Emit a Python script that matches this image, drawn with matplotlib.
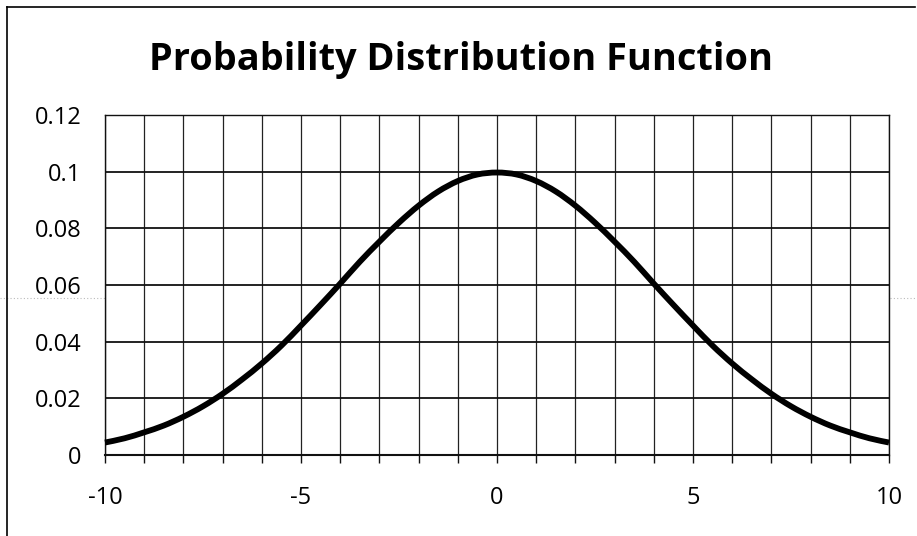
import matplotlib.pyplot as plt
import numpy as np
from matplotlib.lines import Line2D
from matplotlib.path import Path
from matplotlib.patches import PathPatch

# values (half-unit steps)
x_vals = [-10, -9.5, -9, -8.5, -8, -7.5, -7, -6.5, -6, -5.5, -5, -4.5, -4, -3.5,
          -3, -2.5, -2, -1.5, -1, -0.5, 0, 0.5, 1, 1.5, 2, 2.5, 3, 3.5, 4, 4.5,
          5, 5.5, 6, 6.5, 7, 7.5, 8, 8.5, 9, 9.5, 10]
pdf_vals = [0.0044, 0.0059, 0.0080, 0.0104, 0.0135, 0.0172, 0.0216, 0.0267,
            0.0323, 0.0386, 0.0457, 0.0530, 0.0605, 0.0682, 0.0753, 0.0820,
            0.0880, 0.0930, 0.0967, 0.0990, 0.0997, 0.0990, 0.0967, 0.0930,
            0.0880, 0.0820, 0.0753, 0.0682, 0.0605, 0.0530, 0.0457, 0.0386,
            0.0323, 0.0267, 0.0216, 0.0172, 0.0135, 0.0104, 0.0080, 0.0059,
            0.0044]
x_ticks = [-10, -5, 0, 5, 10]
x_labels = ["-10", "-5", "0", "5", "10"]
y_ticks = [0, 0.02, 0.04, 0.06, 0.08, 0.1, 0.12]
y_labels = ["0", "0.02", "0.04", "0.06", "0.08", "0.1", "0.12"]

plt.rcParams["font.family"] = ["Open Sans", "DejaVu Sans"]


def smooth_path(xs, ys):
    # Excel-style smoothed line: Catmull-Rom segments drawn as cubic beziers
    p = np.column_stack([xs, ys]).astype(float)
    verts = [p[0]]
    codes = [Path.MOVETO]
    n = len(p)
    for i in range(n - 1):
        p0 = p[i - 1] if i > 0 else p[i]
        p1, p2 = p[i], p[i + 1]
        p3 = p[i + 2] if i + 2 < n else p[i + 1]
        verts += [p1 + (p2 - p0) / 6, p2 - (p3 - p1) / 6, p2]
        codes += [Path.CURVE4] * 3
    return Path(verts, codes)


W, H = 917, 536
fig = plt.figure(figsize=(W / 100, H / 100), dpi=100)
ax = fig.add_axes([105 / W, 1 - 455 / H, (889 - 105) / W, (455 - 115) / H])

ax.add_patch(PathPatch(smooth_path(x_vals, pdf_vals), fill=False,
                       edgecolor="black", lw=4.2, zorder=3, clip_on=False))

ax.set_xlim(-10, 10)
ax.set_ylim(0, 0.12)
ax.set_xticks(x_ticks)
ax.set_xticklabels(x_labels)
ax.set_xticks(np.arange(-10, 11, 1), minor=True)
ax.set_yticks(y_ticks)
ax.set_yticklabels(y_labels)

ax.grid(True, which="both", axis="x", color="#222222", lw=0.9)
ax.grid(True, which="major", axis="y", color="#111111", lw=1.3)
ax.set_axisbelow(True)

for s in ax.spines.values():
    s.set_color("#111111")
    s.set_linewidth(1.0)
ax.spines["bottom"].set_linewidth(1.5)

ax.tick_params(axis="x", which="both", direction="out", length=6, width=1.0,
               color="#111111", labelsize=17, pad=16)
ax.tick_params(axis="y", which="both", length=0, labelsize=17, pad=17)

fig.text(461 / W, 1 - 60 / H, "Probability Distribution Function",
         ha="center", va="center", fontsize=27.3, fontweight="bold")

# outer frame of the scanned chart
fig.add_artist(Line2D([7 / W, 7 / W], [0, 1 - 7 / H], color="black", lw=1.2))
fig.add_artist(Line2D([7 / W, 915 / W], [1 - 7 / H, 1 - 7 / H], color="black", lw=1.2))
fig.add_artist(Line2D([0, 1], [1 - 298 / H, 1 - 298 / H], color="#bbbbbb",
                      lw=0.8, ls=(0, (1, 2)), zorder=0))

fig.savefig("out.png", dpi=100)
